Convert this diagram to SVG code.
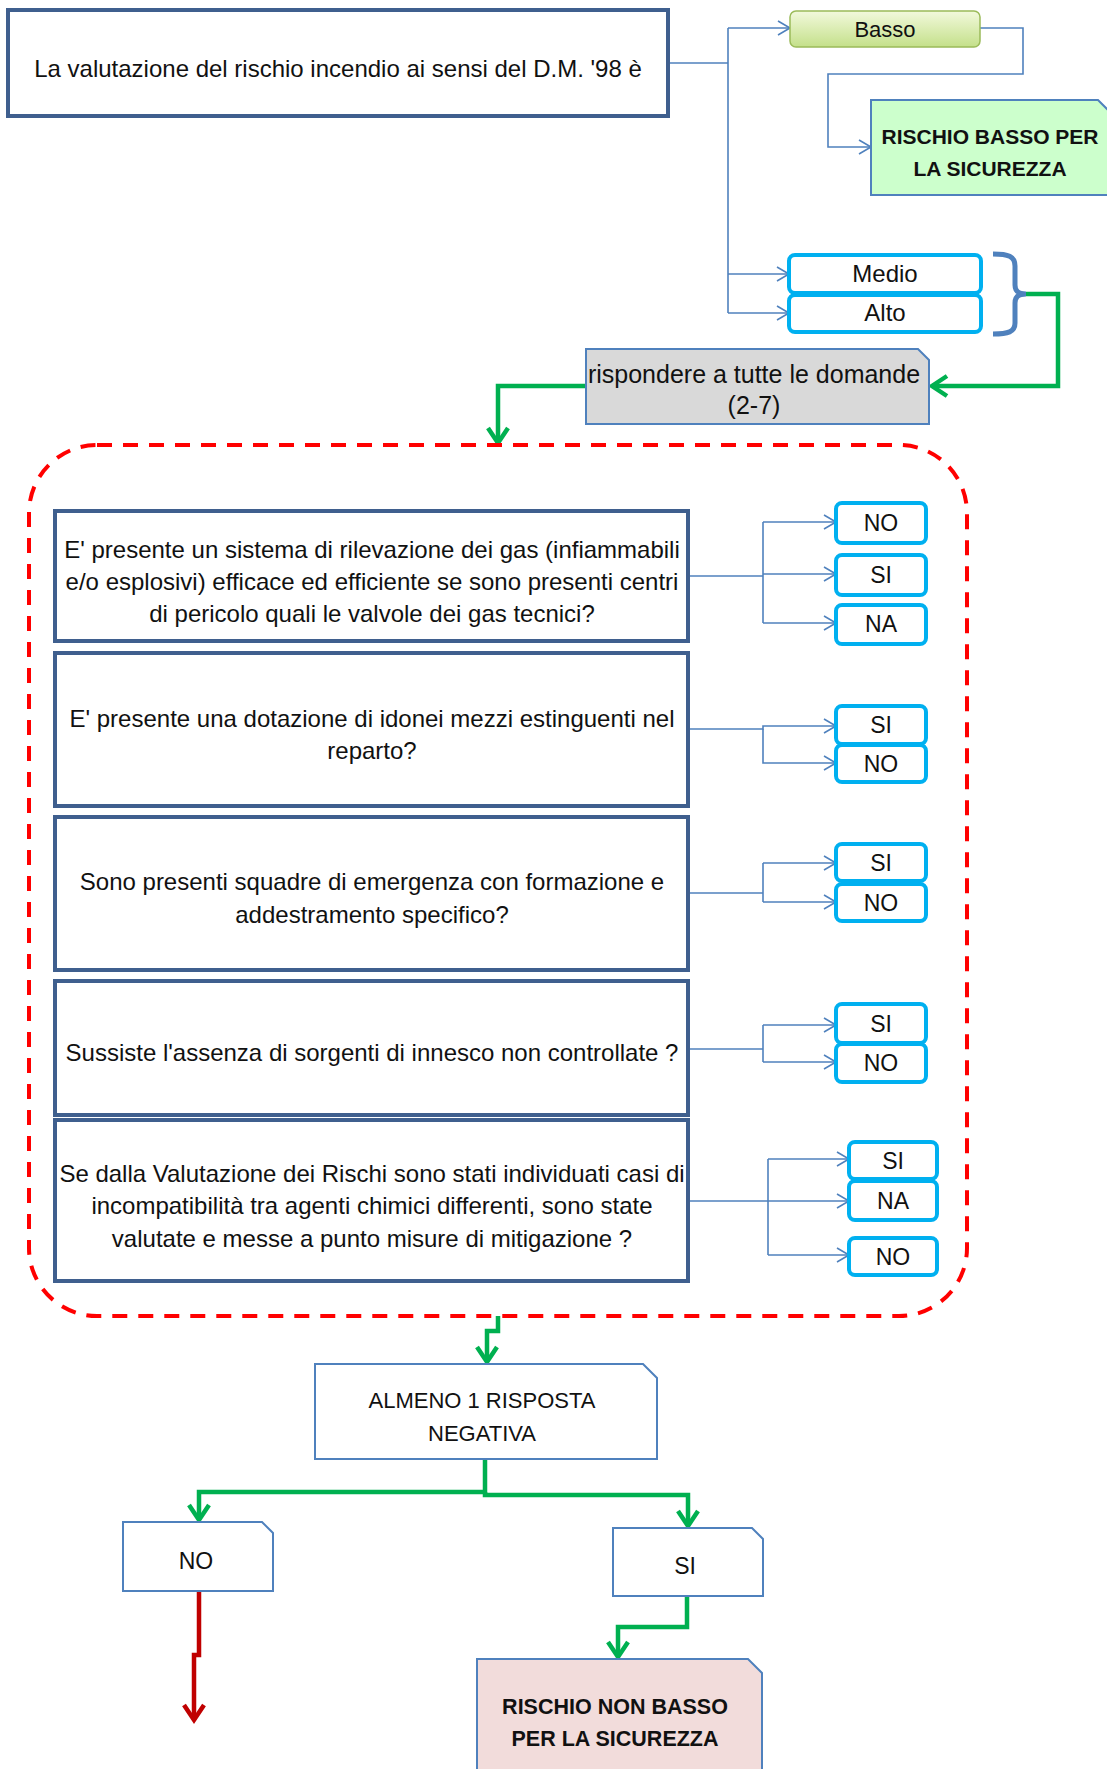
<svg xmlns="http://www.w3.org/2000/svg" width="1107" height="1769" viewBox="0 0 1107 1769">
<style>
text{font-family:"Liberation Sans",Arial,sans-serif;font-size:24px;fill:#111;text-anchor:middle}
.b{font-weight:bold;font-size:21px}
.bb{font-weight:bold;font-size:21.5px}
.c{font-size:22px}
.s{font-size:23px}
.q{fill:#fff;stroke:#3F5F8E;stroke-width:4}
.a{fill:#fff;stroke:#00B0F0;stroke-width:4}
.bl{fill:none;stroke:#4F81BD;stroke-width:1.6}
.gr{fill:none;stroke:#00B050;stroke-width:4.5;stroke-linejoin:miter}
.rd{fill:none;stroke:#C00000;stroke-width:4.5}
.snip{stroke:#4F81BD;stroke-width:2}
</style>
<defs>
<marker id="ab" viewBox="0 0 12 14" refX="12" refY="7" markerWidth="12" markerHeight="14" markerUnits="userSpaceOnUse" orient="auto" overflow="visible">
<path d="M0,0 L12,7 L0,14" fill="none" stroke="#4F81BD" stroke-width="1.6"/>
</marker>
<marker id="ag" viewBox="0 0 18 22" refX="16" refY="11" markerWidth="18" markerHeight="22" markerUnits="userSpaceOnUse" orient="auto" overflow="visible">
<path d="M1,1 L16,11 L1,21" fill="none" stroke="#00B050" stroke-width="4.5"/>
</marker>
<marker id="ar" viewBox="0 0 18 22" refX="16" refY="11" markerWidth="18" markerHeight="22" markerUnits="userSpaceOnUse" orient="auto" overflow="visible">
<path d="M1,1 L16,11 L1,21" fill="none" stroke="#C00000" stroke-width="4.5"/>
</marker>
<linearGradient id="gb" x1="0" y1="0" x2="0" y2="1">
<stop offset="0" stop-color="#F2F9DC"/>
<stop offset="1" stop-color="#C4E08A"/>
</linearGradient>
</defs>

<g id="connectors">
<path class="bl" d="M668,63 H728"/>
<path class="bl" d="M728,28 V313"/>
<path class="bl" d="M728,28 H790" marker-end="url(#ab)"/>
<path class="bl" d="M728,274 H789" marker-end="url(#ab)"/>
<path class="bl" d="M728,313 H789" marker-end="url(#ab)"/>
<path class="bl" d="M980,28 H1023 V74 H828 V147 H871" marker-end="url(#ab)"/>
<path d="M993,254 C1008,254 1015,256 1015,266 V285 C1015,291 1018,294 1026,294 C1018,294 1015,297 1015,303 V323 C1015,332 1008,334 993,334" fill="none" stroke="#4F81BD" stroke-width="5"/>
<path class="gr" d="M1026,294 H1058 V386 H932" marker-end="url(#ag)"/>
<path class="gr" d="M586,386 H498 V443" marker-end="url(#ag)"/>
<path class="bl" d="M688,576 H763"/>
<path class="bl" d="M763,522 V623"/>
<path class="bl" d="M763,522 H836" marker-end="url(#ab)"/>
<path class="bl" d="M763,574 H836" marker-end="url(#ab)"/>
<path class="bl" d="M763,623 H836" marker-end="url(#ab)"/>
<path class="bl" d="M688,729 H763 V726 H836" marker-end="url(#ab)"/>
<path class="bl" d="M763,729 V763 H836" marker-end="url(#ab)"/>
<path class="bl" d="M688,893 H763"/>
<path class="bl" d="M763,863 V902"/>
<path class="bl" d="M763,863 H836" marker-end="url(#ab)"/>
<path class="bl" d="M763,902 H836" marker-end="url(#ab)"/>
<path class="bl" d="M688,1049 H763"/>
<path class="bl" d="M763,1025 V1062"/>
<path class="bl" d="M763,1025 H836" marker-end="url(#ab)"/>
<path class="bl" d="M763,1062 H836" marker-end="url(#ab)"/>
<path class="bl" d="M688,1201 H849" marker-end="url(#ab)"/>
<path class="bl" d="M768,1159 V1255"/>
<path class="bl" d="M768,1159 H849" marker-end="url(#ab)"/>
<path class="bl" d="M768,1255 H849" marker-end="url(#ab)"/>
<path class="gr" d="M498,1316 V1331 H487 V1362" marker-end="url(#ag)"/>
<path class="gr" d="M485,1459 V1492 H199 V1520" marker-end="url(#ag)"/>
<path class="gr" d="M485,1492 V1495 H688 V1526" marker-end="url(#ag)"/>
<path class="rd" d="M199,1591 V1655 H194 V1720" marker-end="url(#ar)"/>
<path class="gr" d="M687,1596 V1627 H618 V1657" marker-end="url(#ag)"/>
</g>

<g id="title">
<rect x="8" y="10" width="660" height="106" class="q"/>
<text x="338" y="77">La valutazione del rischio incendio ai sensi del D.M. '98 è</text>
</g>

<g id="basso">
<rect x="790" y="11" width="190" height="36" rx="6" fill="url(#gb)" stroke="#9BBB59" stroke-width="1.5"/>
<text x="885" y="37" class="c">Basso</text>
</g>

<g id="rischio-basso">
<path d="M871,100 H1098 L1110,112 V195 H871 Z" fill="#CCFFCC" class="snip"/>
<text x="990" y="144" class="b">RISCHIO BASSO PER</text>
<text x="990" y="176" class="b">LA SICUREZZA</text>
</g>

<g id="medio">
<rect x="789" y="255" width="192" height="38" rx="6" class="a"/>
<text x="885" y="282">Medio</text>
</g>
<g id="alto">
<rect x="789" y="295" width="192" height="37" rx="6" class="a"/>
<text x="885" y="321">Alto</text>
</g>

<g id="rispondere">
<path d="M586,349 H918 L929,360 V424 H586 Z" fill="#D9D9D9" class="snip"/>
<text x="754" y="383" style="font-size:25px">rispondere a tutte le domande</text>
<text x="754" y="414" style="font-size:25px">(2-7)</text>
</g>

<g id="group-frame">
<rect x="29" y="445" width="938" height="871" rx="68" fill="none" stroke="#FF0000" stroke-width="4" stroke-dasharray="15 11"/>
</g>

<g id="q1">
<rect x="55" y="511" width="633" height="130" class="q"/>
<text x="372" y="558">E' presente un sistema di rilevazione dei gas (infiammabili</text>
<text x="372" y="590">e/o esplosivi) efficace ed efficiente se sono presenti centri</text>
<text x="372" y="622">di pericolo quali le valvole dei gas tecnici?</text>
</g>
<g id="q1-no"><rect x="836" y="503" width="90" height="40" rx="6" class="a"/><text x="881" y="531" class="s">NO</text></g>
<g id="q1-si"><rect x="836" y="555" width="90" height="40" rx="6" class="a"/><text x="881" y="583" class="s">SI</text></g>
<g id="q1-na"><rect x="836" y="605" width="90" height="39" rx="6" class="a"/><text x="881" y="632" class="s">NA</text></g>

<g id="q2">
<rect x="55" y="653" width="633" height="153" class="q"/>
<text x="372" y="727">E' presente una dotazione di idonei mezzi estinguenti nel</text>
<text x="372" y="759">reparto?</text>
</g>
<g id="q2-si"><rect x="836" y="706" width="90" height="38" rx="6" class="a"/><text x="881" y="733" class="s">SI</text></g>
<g id="q2-no"><rect x="836" y="745" width="90" height="37" rx="6" class="a"/><text x="881" y="772" class="s">NO</text></g>

<g id="q3">
<rect x="55" y="817" width="633" height="153" class="q"/>
<text x="372" y="890">Sono presenti squadre di emergenza con formazione e</text>
<text x="372" y="923">addestramento specifico?</text>
</g>
<g id="q3-si"><rect x="836" y="844" width="90" height="37" rx="6" class="a"/><text x="881" y="871" class="s">SI</text></g>
<g id="q3-no"><rect x="836" y="884" width="90" height="37" rx="6" class="a"/><text x="881" y="911" class="s">NO</text></g>

<g id="q4">
<rect x="55" y="981" width="633" height="134" class="q"/>
<text x="372" y="1061">Sussiste l'assenza di sorgenti di innesco non controllate ?</text>
</g>
<g id="q4-si"><rect x="836" y="1004" width="90" height="39" rx="6" class="a"/><text x="881" y="1032" class="s">SI</text></g>
<g id="q4-no"><rect x="836" y="1044" width="90" height="38" rx="6" class="a"/><text x="881" y="1071" class="s">NO</text></g>

<g id="q5">
<rect x="55" y="1120" width="633" height="161" class="q"/>
<text x="372" y="1182">Se dalla Valutazione dei Rischi sono stati individuati casi di</text>
<text x="372" y="1214">incompatibilità tra agenti chimici differenti, sono state</text>
<text x="372" y="1247">valutate e messe a punto misure di mitigazione ?</text>
</g>
<g id="q5-si"><rect x="849" y="1142" width="88" height="37" rx="6" class="a"/><text x="893" y="1169" class="s">SI</text></g>
<g id="q5-na"><rect x="849" y="1181" width="88" height="39" rx="6" class="a"/><text x="893" y="1209" class="s">NA</text></g>
<g id="q5-no"><rect x="849" y="1238" width="88" height="37" rx="6" class="a"/><text x="893" y="1265" class="s">NO</text></g>

<g id="almeno">
<path d="M315,1364 H643 L657,1378 V1459 H315 Z" fill="#fff" class="snip"/>
<text x="482" y="1408" class="c">ALMENO 1 RISPOSTA</text>
<text x="482" y="1441" class="c">NEGATIVA</text>
</g>

<g id="no">
<path d="M123,1522 H262 L273,1533 V1591 H123 Z" fill="#fff" class="snip"/>
<text x="196" y="1569" class="s">NO</text>
</g>

<g id="si">
<path d="M613,1528 H752 L763,1539 V1596 H613 Z" fill="#fff" class="snip"/>
<text x="685" y="1574" class="s">SI</text>
</g>

<g id="rischio-non-basso">
<path d="M477,1659 H748 L762,1673 V1775 H477 Z" fill="#F2DCDB" class="snip"/>
<text x="615" y="1714" class="bb">RISCHIO NON BASSO</text>
<text x="615" y="1746" class="bb">PER LA SICUREZZA</text>
</g>
</svg>
